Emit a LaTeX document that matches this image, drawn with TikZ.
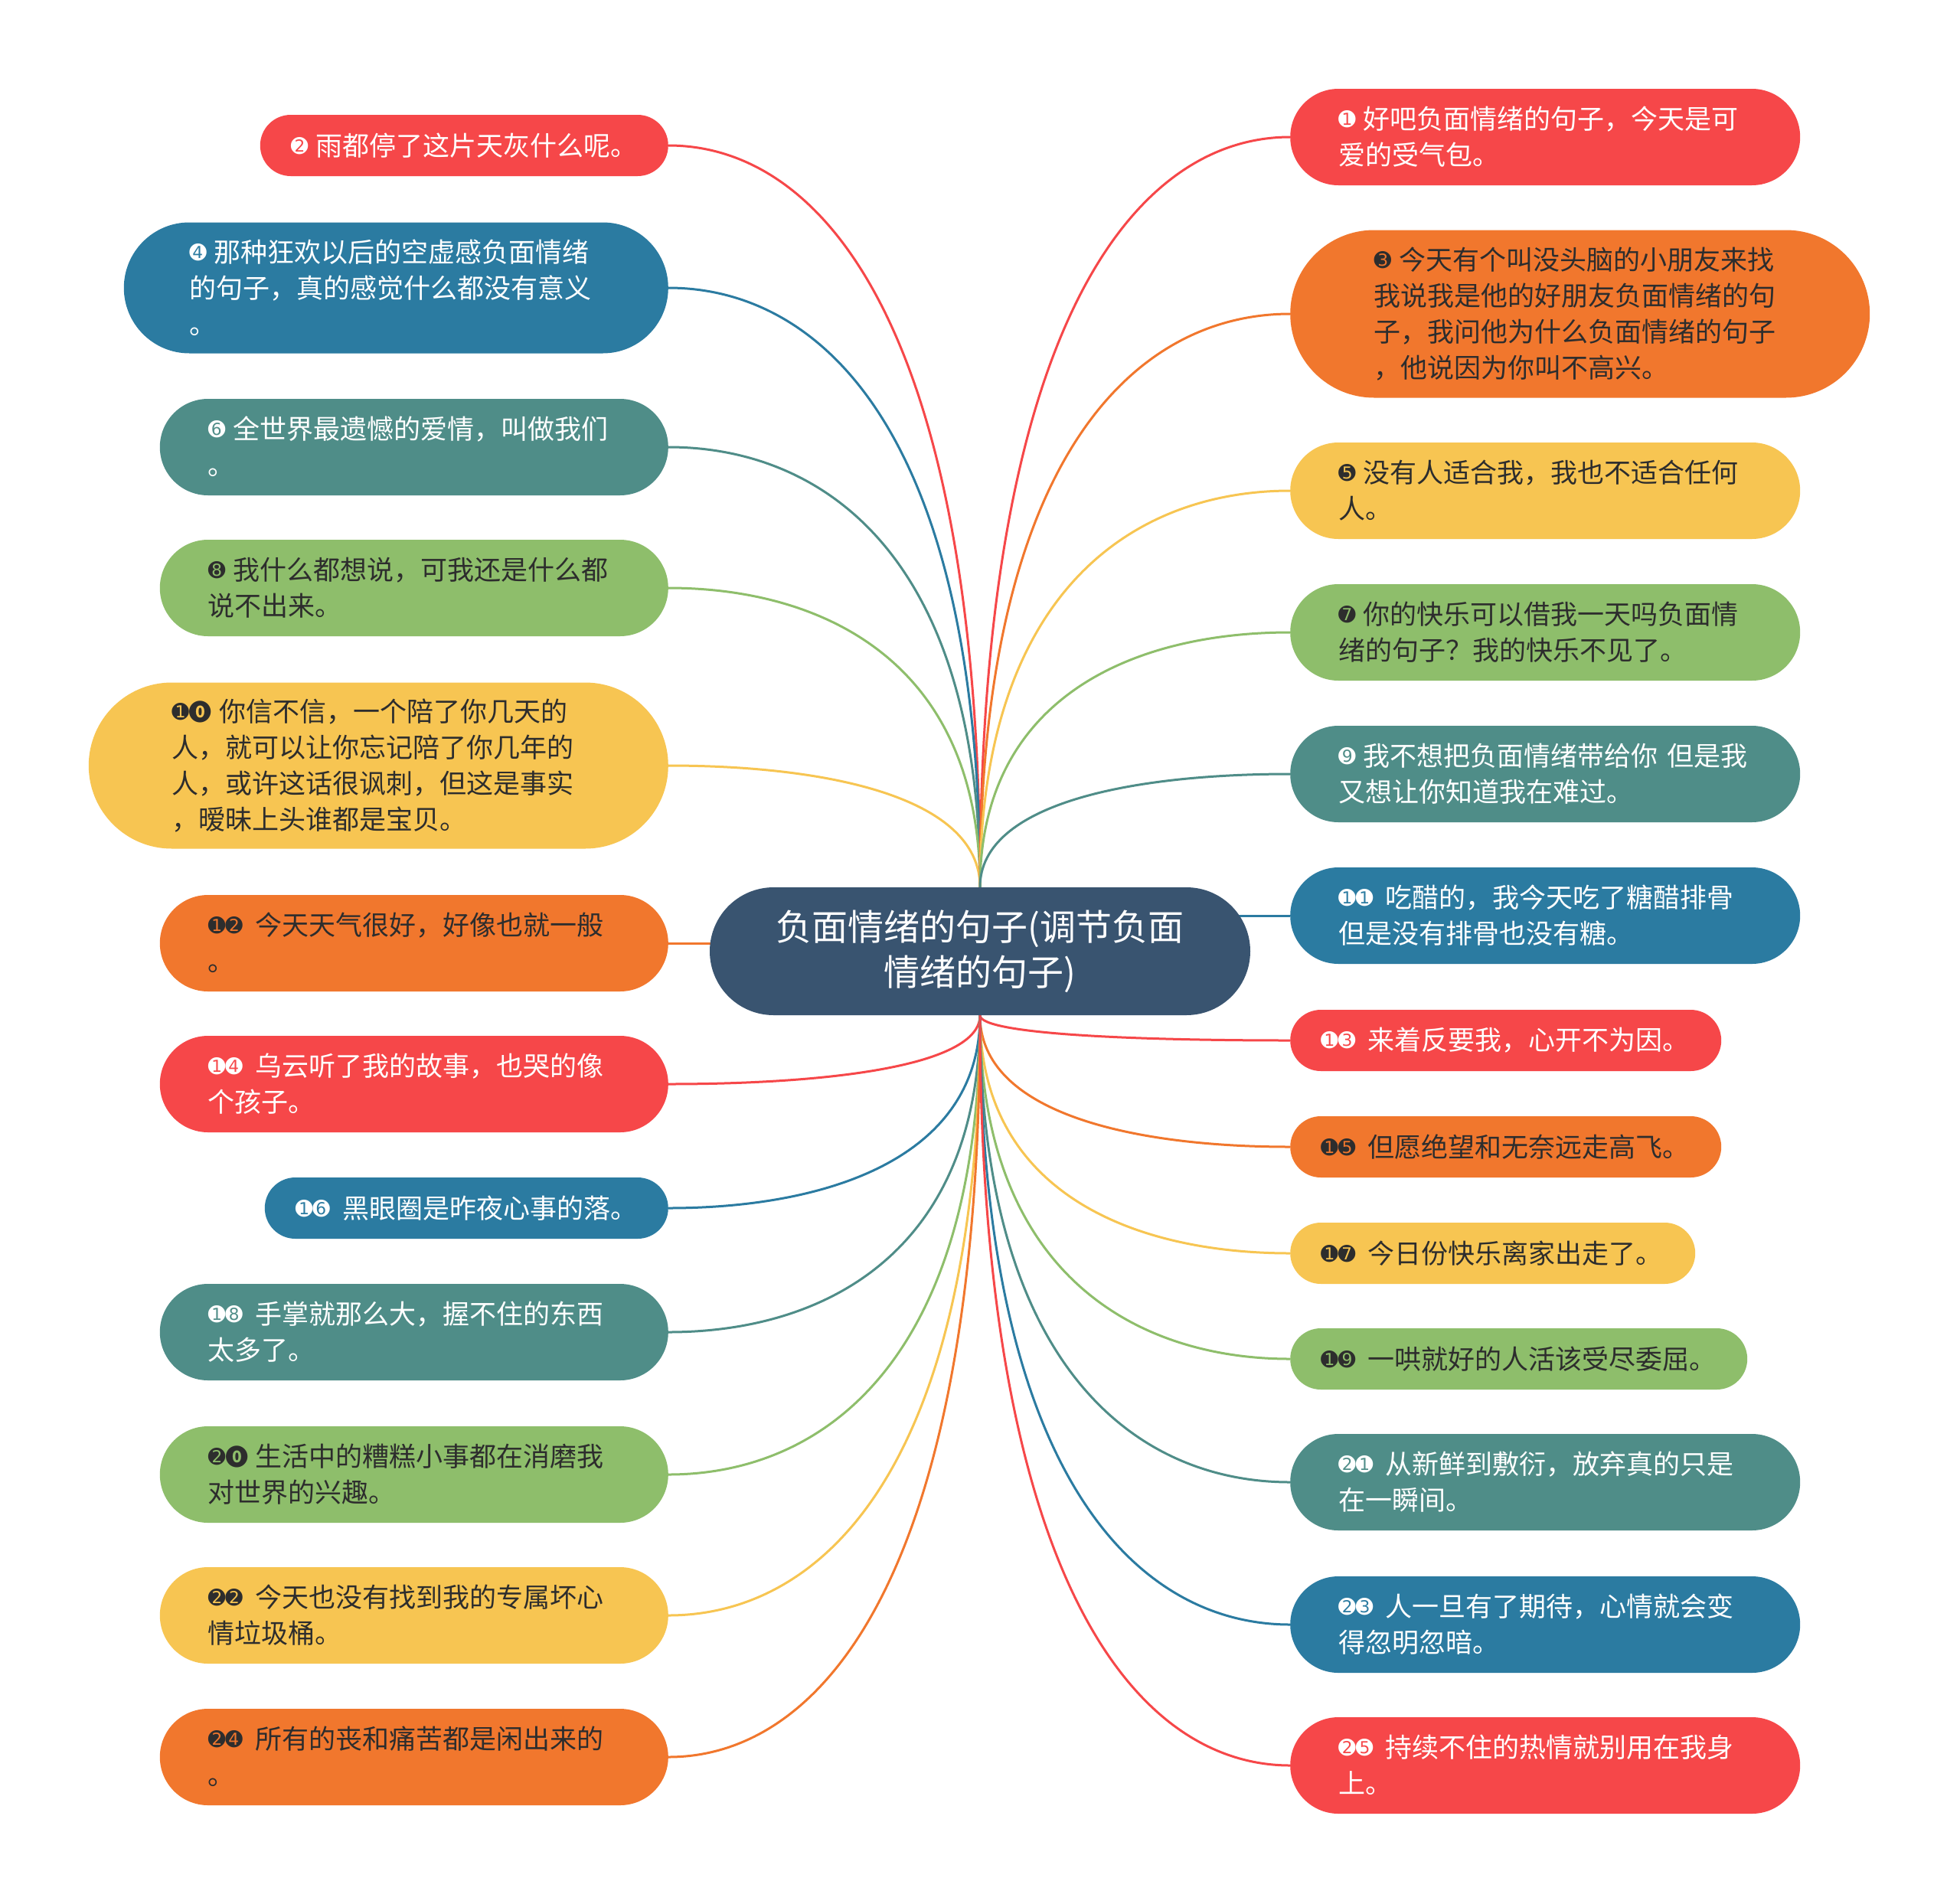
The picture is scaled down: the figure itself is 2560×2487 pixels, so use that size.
\documentclass[tikz,border=0pt]{standalone}
\usepackage{fontspec}
\setmainfont{Noto Sans CJK SC}
\newfontfamily\dvfont{DejaVu Sans}
\usetikzlibrary{calc}
\definecolor{cred}{HTML}{F64749}
\definecolor{corange}{HTML}{F1772D}
\definecolor{cyellow}{HTML}{F7C552}
\definecolor{cgreen}{HTML}{8EBE6B}
\definecolor{cteal}{HTML}{4F8D88}
\definecolor{cblue}{HTML}{2B7BA1}
\definecolor{croot}{HTML}{395470}
\definecolor{cdark}{HTML}{2D2D2D}
\pgfdeclarelayer{paper}\pgfdeclarelayer{bg}\pgfsetlayers{paper,bg,main}
\newsavebox\czbox \newsavebox\czdig
\newcommand\cd[1]{\raisebox{3pt}{\dvfont\fontsize{27}{27}\selectfont #1}}
\newcommand\cz[2]{%
  \sbox\czbox{\dvfont\fontsize{37}{37}\selectfont ●}%
  \sbox\czdig{\fontsize{21}{21}\selectfont\bfseries 0}%
  \raisebox{\dimexpr 13pt-(\ht\czbox-\dp\czbox)/2\relax}{\makebox[0pt][l]{\color{#1}\dvfont\fontsize{37}{37}\selectfont ●}}%
  \makebox[\wd\czbox]{\raisebox{\dimexpr 13pt-\ht\czdig/2\relax}{\color{#2}\fontsize{21}{21}\selectfont\bfseries 0}}}
\newcommand\na[1]{\cd{#1}\kern10pt}
\newcommand\nb[2]{\cd{#1}\cd{#2}\kern16pt}
\newcommand\nz[3]{\cd{#1}\kern-1pt\cz{#2}{#3}\kern8pt}
\newcommand\leaf[8]{%
  \pgfmathsetmacro\tw{#5-#6}\pgfmathsetmacro\hr{#6/2}%
  \node[leaf,#7,anchor=#2,minimum width=#5pt,minimum height=#6pt,
        text width=\tw pt,inner xsep=\hr pt,rounded corners=\hr pt] (#1) at (#3,#4) {#8\vphantom{国}};}
\newcommand\up[3]{\draw[conn,#1] (root.north) .. controls ($(root.north)!0.75!(root.north |- #2.#3)$) and ($(#2.#3)!0.5!(#2.#3 -| root.north)$) .. (#2.#3);}
\newcommand\dn[3]{\draw[conn,#1] (root.south) .. controls ($(root.south)!0.75!(root.south |- #2.#3)$) and ($(#2.#3)!0.5!(#2.#3 -| root.south)$) .. (#2.#3);}
\tikzset{
  leaf/.style={shape=rectangle, align=left, inner ysep=0pt, font=\fontsize{35}{47}\selectfont},
  fred/.style={fill=cred, text=white},
  fblu/.style={fill=cblue, text=white},
  ftea/.style={fill=cteal, text=white},
  fora/.style={fill=corange, text=cdark},
  fyel/.style={fill=cyellow, text=cdark},
  fgrn/.style={fill=cgreen, text=cdark},
  conn/.style={line width=3pt}
}
\begin{document}
\begin{tikzpicture}[x=1pt,y=-1pt]
\useasboundingbox (0,0) rectangle (2560,2487);
\begin{pgfonlayer}{paper}
\fill[white] (0,0) rectangle (2560,2487);
\end{pgfonlayer}
\node[fill=croot, text=white, minimum width=706pt, minimum height=167pt, rounded corners=83.5pt,
      align=center, inner sep=0pt, font=\fontsize{47}{59}\selectfont] (root) at (1280,1242.5)
      {负面情绪的句子(调节负面\\情绪的句子)};
% left
\leaf{l2}{east}{873}{190}{533}{80}{fred}{\na{➋}雨都停了这片天灰什么呢。}
\leaf{l4}{east}{873}{376}{711}{171}{fblu}{\na{➍}那种狂欢以后的空虚感负面情绪\\的句子，真的感觉什么都没有意义\\。}
\leaf{l6}{east}{873}{584}{664}{126}{ftea}{\na{➏}全世界最遗憾的爱情，叫做我们\\。}
\leaf{l8}{east}{873}{768}{664}{126}{fgrn}{\na{➑}我什么都想说，可我还是什么都\\说不出来。}
\leaf{l10}{east}{873}{1000}{757}{217}{fyel}{\nz{➊}{cdark}{cyellow}你信不信，一个陪了你几天的\\人，就可以让你忘记陪了你几年的\\人，或许这话很讽刺，但这是事实\\，暧昧上头谁都是宝贝。}
\leaf{l12}{east}{873}{1232}{664}{126}{fora}{\nb{➊}{➋}今天天气很好，好像也就一般\\。}
\leaf{l14}{east}{873}{1416}{664}{126}{fred}{\nb{➊}{➍}乌云听了我的故事，也哭的像\\个孩子。}
\leaf{l16}{east}{873}{1578}{527}{80}{fblu}{\nb{➊}{➏}黑眼圈是昨夜心事的落。}
\leaf{l18}{east}{873}{1740}{664}{126}{ftea}{\nb{➊}{➑}手掌就那么大，握不住的东西\\太多了。}
\leaf{l20}{east}{873}{1926}{664}{126}{fgrn}{\nz{➋}{cdark}{cgreen}生活中的糟糕小事都在消磨我\\对世界的兴趣。}
\leaf{l22}{east}{873}{2110}{664}{126}{fyel}{\nb{➋}{➋}今天也没有找到我的专属坏心\\情垃圾桶。}
\leaf{l24}{east}{873}{2295}{664}{126}{fora}{\nb{➋}{➍}所有的丧和痛苦都是闲出来的\\。}
% right
\leaf{r1}{west}{1685}{179}{666}{126}{fred}{\na{➊}好吧负面情绪的句子，今天是可\\爱的受气包。}
\leaf{r3}{west}{1685}{410}{757}{219}{fora}{\na{➌}今天有个叫没头脑的小朋友来找\\我说我是他的好朋友负面情绪的句\\子，我问他为什么负面情绪的句子\\，他说因为你叫不高兴。}
\leaf{r5}{west}{1685}{641}{666}{126}{fyel}{\na{➎}没有人适合我，我也不适合任何\\人。}
\leaf{r7}{west}{1685}{826}{666}{126}{fgrn}{\na{➐}你的快乐可以借我一天吗负面情\\绪的句子？我的快乐不见了。}
\leaf{r9}{west}{1685}{1011}{666}{126}{ftea}{\na{➒}我不想把负面情绪带给你~但是我\\又想让你知道我在难过。}
\leaf{r11}{west}{1685}{1196}{666}{126}{fblu}{\nb{➊}{➊}吃醋的，我今天吃了糖醋排骨\\但是没有排骨也没有糖。}
\leaf{r13}{west}{1685}{1359}{563}{80}{fred}{\nb{➊}{➌}来着反要我，心开不为因。}
\leaf{r15}{west}{1685}{1498}{563}{80}{fora}{\nb{➊}{➎}但愿绝望和无奈远走高飞。}
\leaf{r17}{west}{1685}{1637}{529}{80}{fyel}{\nb{➊}{➐}今日份快乐离家出走了。}
\leaf{r19}{west}{1685}{1775}{597}{80}{fgrn}{\nb{➊}{➒}一哄就好的人活该受尽委屈。}
\leaf{r21}{west}{1685}{1936}{666}{126}{ftea}{\nb{➋}{➊}从新鲜到敷衍，放弃真的只是\\在一瞬间。}
\leaf{r23}{west}{1685}{2122}{666}{126}{fblu}{\nb{➋}{➌}人一旦有了期待，心情就会变\\得忽明忽暗。}
\leaf{r25}{west}{1685}{2306}{666}{126}{fred}{\nb{➋}{➎}持续不住的热情就别用在我身\\上。}
\begin{pgfonlayer}{bg}
\up{cred}{l2}{east}
\up{cblue}{l4}{east}
\up{cteal}{l6}{east}
\up{cgreen}{l8}{east}
\up{cyellow}{l10}{east}
\draw[conn,corange] (root.center |- l12.east) -- (l12.east);
\dn{cred}{l14}{east}
\dn{cblue}{l16}{east}
\dn{cteal}{l18}{east}
\dn{cgreen}{l20}{east}
\dn{cyellow}{l22}{east}
\dn{corange}{l24}{east}
\up{cred}{r1}{west}
\up{corange}{r3}{west}
\up{cyellow}{r5}{west}
\up{cgreen}{r7}{west}
\up{cteal}{r9}{west}
\draw[conn,cblue] (root.center |- r11.west) -- (r11.west);
\dn{cred}{r13}{west}
\dn{corange}{r15}{west}
\dn{cyellow}{r17}{west}
\dn{cgreen}{r19}{west}
\dn{cteal}{r21}{west}
\dn{cblue}{r23}{west}
\dn{cred}{r25}{west}
\end{pgfonlayer}
\end{tikzpicture}
\end{document}
